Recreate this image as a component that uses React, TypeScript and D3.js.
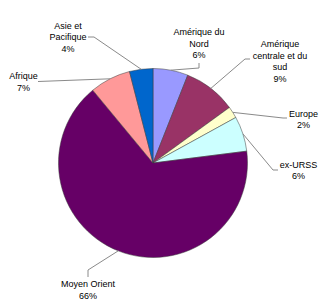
import React from "react";
import * as d3 from "d3";

const categories = [
  "Amérique du Nord",
  "Amérique centrale et du sud",
  "Europe",
  "ex-URSS",
  "Moyen Orient",
  "Afrique",
  "Asie et Pacifique",
];
const values = [6, 9, 2, 6, 66, 7, 4];
const labelLines = [
  ["Amérique du", "Nord", "6%"],
  ["Amérique", "centrale et du", "sud", "9%"],
  ["Europe", "2%"],
  ["ex-URSS", "6%"],
  ["Moyen Orient", "66%"],
  ["Afrique", "7%"],
  ["Asie et", "Pacifique", "4%"],
];
const colors = ["#9999FF", "#993366", "#FFFFCC", "#CCFFFF", "#660066", "#FF9999", "#0066CC"];

const W = 330;
const H = 303;
const cx = 153;
const cy = 163;
const R = 94.5;

// label layout: text center x, first baseline y, leader polyline points (label side)
const labelLayout = [
  { x: 199, y: 35, lead: [[199, 63], [199, 68]] },
  { x: 280, y: 47, lead: [[250, 59], [245, 59]] },
  { x: 303.5, y: 116.5, lead: [[287, 118], [283, 118]] },
  { x: 298.5, y: 167.5, lead: [[278, 170], [273, 170]] },
  { x: 88, y: 287, lead: [[88, 277], [88, 270]] },
  { x: 23.5, y: 79, lead: [[38, 81.5]] },
  { x: 68, y: 28.5, lead: [[88, 37], [94, 37]] },
];
const lineH = 11.7;

export default function App() {
  const data = categories.map((c, i) => ({ c, v: values[i], i }));
  const pie = d3.pie<any>().value((d) => d.v).sort(null).startAngle(0).endAngle(2 * Math.PI);
  const arcs = pie(data);
  const arc = d3.arc<any>().innerRadius(0).outerRadius(R);

  return (
    <svg
      width={W}
      height={H}
      style={{ position: "absolute", left: 0, top: 0, fontFamily: "'Liberation Sans', Arial, sans-serif" }}
    >
      <rect width={W} height={H} fill="#ffffff" />
      <g transform={`translate(${cx},${cy})`}>
        {arcs.map((a, i) => (
          <path key={i} d={arc(a) as string} fill={colors[i]} stroke="#3a3a3a" strokeWidth={0.5} />
        ))}
      </g>
      {arcs.map((a, i) => {
        const mid = (a.startAngle + a.endAngle) / 2;
        const ex = cx + R * Math.sin(mid);
        const ey = cy - R * Math.cos(mid);
        const L = labelLayout[i];
        const pts = [...L.lead, [ex, ey]];
        return (
          <polyline
            key={"l" + i}
            points={pts.map((p) => p.join(",")).join(" ")}
            fill="none"
            stroke="#8a8a8a"
            strokeWidth={1}
          />
        );
      })}
      {labelLines.map((lines, i) => (
        <text key={"t" + i} textAnchor="middle" fontSize={9} fill="#000">
          {lines.map((s, j) => (
            <tspan key={j} x={labelLayout[i].x} y={labelLayout[i].y + j * lineH}>
              {s}
            </tspan>
          ))}
        </text>
      ))}
    </svg>
  );
}
